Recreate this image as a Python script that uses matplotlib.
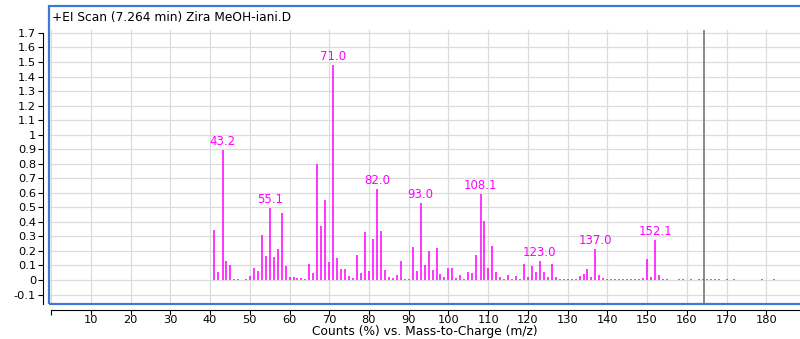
import matplotlib
matplotlib.use("Agg")
from matplotlib import pyplot as plt
from matplotlib.patches import Rectangle

# spectrum: m/z and abundance
MZ = [41, 42, 43.2, 44, 45, 46, 47, 49, 50, 51, 52, 53, 54, 55.1, 56, 57, 58, 59,
      60, 61, 62, 63, 64, 65, 66, 67, 68, 69, 70, 71.0, 72, 73, 74, 75, 76, 77, 78,
      79, 80, 81, 82.0, 83, 84, 85, 86, 87, 88, 89, 90, 91, 92, 93.0, 94, 95, 96,
      97, 98, 99, 100, 101, 102, 103, 104, 105, 106, 107, 108.1, 109, 110, 111,
      112, 113, 114, 115, 116, 117, 118, 119, 120, 121, 122, 123.0, 124, 125, 126,
      127, 128, 129, 130, 131, 132, 133, 134, 135, 136, 137.0, 138, 139, 140, 141,
      142, 143, 144, 145, 146, 147, 148, 149, 150, 151, 152.1, 153, 154, 155, 158,
      159, 161, 163, 164, 165, 166, 167, 168, 170, 172, 179, 182]
ABUND = [0.345, 0.055, 0.895, 0.13, 0.10, 0.01, 0.008, 0.01, 0.03, 0.083, 0.062,
         0.31, 0.165, 0.495, 0.155, 0.21, 0.46, 0.096, 0.018, 0.018, 0.012, 0.012,
         0.01, 0.108, 0.05, 0.80, 0.37, 0.55, 0.125, 1.48, 0.15, 0.076, 0.076,
         0.028, 0.014, 0.172, 0.05, 0.333, 0.064, 0.282, 0.628, 0.337, 0.069,
         0.023, 0.014, 0.032, 0.133, 0.009, 0.009, 0.229, 0.062, 0.532, 0.101,
         0.2, 0.069, 0.218, 0.041, 0.018, 0.08, 0.08, 0.014, 0.032, 0.009, 0.055,
         0.05, 0.172, 0.592, 0.406, 0.083, 0.236, 0.055, 0.023, 0.009, 0.032,
         0.01, 0.028, 0.01, 0.108, 0.018, 0.096, 0.057, 0.131, 0.055, 0.023,
         0.108, 0.018, 0.01, 0.006, 0.006, 0.006, 0.006, 0.028, 0.041, 0.076,
         0.023, 0.211, 0.032, 0.014, 0.008, 0.006, 0.006, 0.006, 0.006, 0.006,
         0.006, 0.006, 0.006, 0.014, 0.145, 0.018, 0.275, 0.034, 0.01, 0.008,
         0.006, 0.006, 0.006, 0.006, 0.006, 0.006, 0.006, 0.006, 0.006, 0.006,
         0.006, 0.006, 0.006]
LABELED = [43.2, 55.1, 71.0, 82.0, 93.0, 108.1, 123.0, 137.0, 152.1]
CURSOR_MZ = 164.4

TITLE = "+EI Scan (7.264 min) Zira MeOH-iani.D"
XLABEL = "Counts (%) vs. Mass-to-Charge (m/z)"

W, H = 800, 339
fig = plt.figure(figsize=(W / 100, H / 100), dpi=100)
ax = fig.add_axes([50 / W, (H - 304) / H, 750 / W, 274 / H])

ax.vlines(MZ, 0, ABUND, color="#ff00ff", linewidth=1.1, zorder=3)
for m in LABELED:
    h = ABUND[MZ.index(m)]
    ax.annotate(f"{m:.1f}", (m, h), xytext=(0, 1.5), textcoords="offset points",
                ha="center", va="bottom", color="#ff00ff", fontsize=8.5, zorder=4)

ax.axvline(CURSOR_MZ, color="#7f7f7f", linewidth=1.3, zorder=2)

ax.set_xlim(-0.3, 188.5)
ax.set_ylim(-0.165, 1.72)

xt = list(range(0, 190, 10))
ax.set_xticks(xt)
ax.set_xticklabels([""] + [str(v) for v in xt[1:]])
yt = [round(-0.1 + 0.1 * i, 1) for i in range(19)]
ax.set_yticks(yt)
ax.set_yticklabels([f"{v:g}" for v in yt])
ax.grid(True, color="#dcdcdc", linewidth=0.9, zorder=0)
ax.set_axisbelow(True)

for s in ["top", "right"]:
    ax.spines[s].set_visible(False)
ax.spines["left"].set_position(("outward", 5))
ax.spines["bottom"].set_position(("outward", 4))
ax.spines["left"].set_bounds(-0.165, 1.7)
ax.spines["bottom"].set_bounds(0, 188.5)
ax.spines["left"].set_linewidth(0.8)
ax.spines["bottom"].set_linewidth(0.8)
ax.tick_params(axis="both", labelsize=8.2, length=3.5, width=0.8, colors="black")
ax.tick_params(axis="y", pad=1.5)
ax.tick_params(axis="x", pad=0.5)
ax.set_xlabel(XLABEL, fontsize=8.8, labelpad=0)

# blue frame around the plot and title
fig.add_artist(Rectangle((49 / W, (H - 304) / H), 760 / W, 298 / H,
                         transform=fig.transFigure, fill=False,
                         edgecolor="#3c78d8", linewidth=1.6, zorder=10))
fig.text(52 / W, (H - 17) / H, TITLE, fontsize=8.8, va="center", ha="left")

fig.savefig("out.png", dpi=100)
